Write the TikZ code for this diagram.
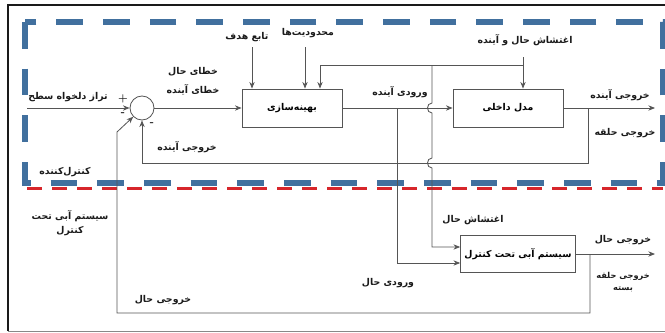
\documentclass[tikz,border=0pt]{standalone}
\usepackage{fontspec}
\usetikzlibrary{arrows.meta,positioning,calc}
\TeXXeTstate=1
\newfontfamily\fa[Script=Arabic]{DejaVu Sans}
\newcommand{\rtl}[1]{\beginR #1\endR}
\definecolor{ink}{HTML}{1A1A1A}
\definecolor{wire}{HTML}{555555}
\definecolor{ctrlblue}{HTML}{41709E}
\definecolor{plantred}{HTML}{D7262B}
\tikzset{
  box/.style={draw=wire, line width=0.7pt, fill=white, align=center, minimum height=11.4mm, font=\fa\bfseries\footnotesize},
  sumnode/.style={circle, draw=wire, line width=0.7pt, minimum size=7.2mm, inner sep=0pt},
  label/.style={font=\fa\bfseries\footnotesize, text=ink, align=center, inner sep=1pt},
  small/.style={label, font=\fa\bfseries\scriptsize},
  sign/.style={font=\bfseries\small, text=ink, inner sep=0pt},
  wireline/.style={draw=wire, line width=0.7pt},
  arrow/.style={wireline, -{Stealth[length=2mm,width=1.6mm]}},
  ctrlframe/.style={draw=ctrlblue, line width=1.8mm, dash pattern=on 8mm off 6mm},
  plantline/.style={draw=plantred, line width=0.9mm, dash pattern=on 4.5mm off 3mm}
}
\begin{document}
\begin{tikzpicture}[x=0.3mm, y=-0.3mm]
\useasboundingbox (0,0) rectangle (665,332);
% frames
\draw[ink, line width=1.2pt] (665,5) -- (8,5) -- (8,331);
\draw[wire!70, line width=0.6pt] (8,331) -- (665,331);
\draw[ctrlframe] (25,22) rectangle (663,183);
\draw[plantline] (27,188) -- (663,188);
% blocks
\node[sumnode] (sum) at (142,108) {};
\node[box, minimum width=30mm] (opt) at (292,108) {\rtl{بهینه‌سازی}};
\node[box, minimum width=33mm] (model) at (508,108) {\rtl{مدل داخلی}};
\node[box, minimum width=33mm, minimum height=11.1mm] (plant) at (518,254) {\rtl{سیستم آبی تحت کنترل}};
% labels
\node[label] (refl) at (68,97) {\rtl{تراز دلخواه سطح}};
\node[sign] (plus) at (123,99) {+};
\node[sign] (minusa) at (123,114) {-};
\node[sign] (minusb) at (152,124) {-};
\node[label] (errnow) at (193,72) {\rtl{خطای حال}};
\node[label] (errfut) at (193,90) {\rtl{خطای آینده}};
\node[label] (yfutl) at (187,147) {\rtl{خروجی آینده}};
\node[label] (objl) at (247,37) {\rtl{تابع هدف}};
\node[label] (conl) at (308,33) {\rtl{محدودیت‌ها}};
\node[label] (distl) at (525,40) {\rtl{اغتشاش حال و آینده}};
\node[label] (ufutl) at (400,92) {\rtl{ورودی آینده}};
\node[label] (youtl) at (620,95) {\rtl{خروجی آینده}};
\node[label] (loopl) at (625,133) {\rtl{خروجی حلقه}};
\node[label] (ctrll) at (65,172) {\rtl{کنترل‌کننده}};
\node[label] (plantl) at (70,223) {\rtl{سیستم آبی تحت}\\[2pt]\rtl{کنترل}};
\node[label] (distnowl) at (473,220) {\rtl{اغتشاش حال}};
\node[label] (unowl) at (388,283) {\rtl{ورودی حال}};
\node[label] (ynowl) at (623,240) {\rtl{خروجی حال}};
\node[small] (closedl) at (623,282) {\rtl{خروجی حلقه}\\[2pt]\rtl{بسته}};
\node[label] (yfbl) at (163,300) {\rtl{خروجی حال}};
% points
\coordinate (ref) at (27,108);
\coordinate (objtop) at (252,47);
\coordinate (contop) at (305,47);
\coordinate (disttop) at (523,57);
\coordinate (distsplit) at (523,65);
\coordinate (distplant) at (432,65);
\coordinate (ufut) at (397,108);
\coordinate (yfut) at (655,108);
\coordinate (yfb) at (588,108);
\coordinate (fbcorner) at (588,163);
\coordinate (ynow) at (655,254);
\coordinate (ybr) at (590,254);
\coordinate (ylow) at (590,313);
\coordinate (yleft) at (117,313);
\coordinate (ybend) at (117,132);
% connectors
\draw[arrow] (ref) -- (sum);
\draw[arrow] (sum) -- (opt);
\draw[arrow] (objtop) -- (objtop |- opt.north);
\draw[arrow] (contop) -- (contop |- opt.north);
\draw[arrow] (disttop) -- (disttop |- model.north);
\draw[arrow] (distsplit) -| ([xshift=8.4mm]opt.north);
\draw[arrow] (distplant) -- (432,103) .. controls (426,103) and (426,113) .. (432,113)
  -- (432,158) .. controls (426,158) and (426,168) .. (432,168)
  -- (432,247) -- ([yshift=2.1mm]plant.west);
\draw[arrow] (opt) -- (model);
\draw[arrow] (ufut) |- ([yshift=-2.7mm]plant.west);
\draw[arrow] (model) -- (yfut);
\draw[arrow] (yfb) -- (fbcorner) -| (sum.south);
\draw[arrow] (plant) -- (ynow);
\draw[arrow] (ybr) -- (ylow) -- (yleft) -- (ybend) -- (sum.225);
\end{tikzpicture}
\end{document}
